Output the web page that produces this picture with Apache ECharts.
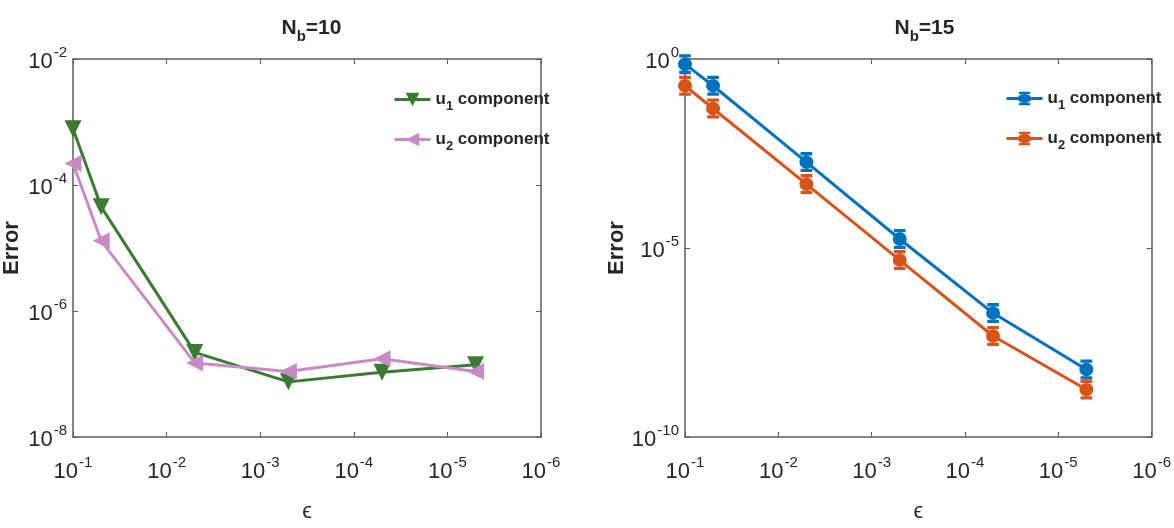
<!DOCTYPE html>
<html>
<head>
<meta charset="utf-8">
<script src="https://cdn.jsdelivr.net/npm/echarts@6/dist/echarts.min.js"></script>
<style>
  html, body { margin: 0; padding: 0; background: #fff; }
  #chart { width: 1174px; height: 528px; }
</style>
</head>
<body>
<div id="chart"></div>
<script>
// epsilon values (x), same for both panels
const eps = [1e-1, 5e-2, 5e-3, 5e-4, 5e-5, 5e-6];

// N_b = 10
const nb10U1 = [7.8e-4, 4.5e-5, 2.2e-7, 7.5e-8, 1.07e-7, 1.4e-7];
const nb10U2 = [2.2e-4, 1.3e-5, 1.5e-7, 1.1e-7, 1.75e-7, 1.1e-7];

// N_b = 15
const nb15U1 = [0.73, 0.196, 1.87e-3, 1.73e-5, 1.9e-7, 6.1e-9];
const nb15U2 = [0.196, 0.049, 4.9e-4, 4.8e-6, 4.7e-8, 1.8e-9];

const panelTitles = ['10', '15'];
const seriesNames = ['u1 component', 'u2 component'];

const FONT = '"Liberation Sans Narrow", "Liberation Sans", Arial, sans-serif';
const FRAME = '#5a5a5a';

const chart = echarts.init(document.getElementById('chart'));

function pairs(ys) {
  return eps.map((x, i) => [x, ys[i]]);
}

function powLabel(v) {
  const e = Math.round(Math.log10(v));
  return '{b|10}{s|' + e + '}';
}

const powRich = {
  b: { fontFamily: FONT, fontSize: 22, color: '#262626', lineHeight: 28, verticalAlign: 'bottom' },
  s: { fontFamily: FONT, fontSize: 15, color: '#262626', lineHeight: 28, verticalAlign: 'top', padding: [0, 0, 11, 1] }
};

const subRich = {
  n: { fontFamily: FONT, fontSize: 17, fontWeight: 'bold', color: '#262626' },
  sub: { fontFamily: FONT, fontSize: 13, fontWeight: 'bold', color: '#262626', padding: [14, 0, 0, 0] }
};

const grids = [
  { left: 72, top: 59, width: 469, height: 390 },
  { left: 685, top: 59, width: 469, height: 390 }
];

const yRanges = [
  { min: 1e-8, max: 1e-2, interval: 2 },
  { min: 1e-10, max: 1, interval: 5 }
];

const xAxes = [];
const yAxes = [];
grids.forEach((g, i) => {
  // bottom x axis with labels
  xAxes.push({
    type: 'log', logBase: 10, gridIndex: i, min: 1e-6, max: 1e-1, inverse: true, interval: 1,
    position: 'bottom',
    name: 'ϵ', nameLocation: 'middle', nameGap: 64,
    nameTextStyle: { fontFamily: FONT, fontSize: 22, color: '#262626' },
    axisLine: { show: true, lineStyle: { color: FRAME, width: 1.5 } },
    axisTick: { inside: true, length: 5, lineStyle: { color: FRAME } },
    axisLabel: { formatter: powLabel, rich: powRich, margin: 18 },
    splitLine: { show: false }
  });
  // top mirror
  xAxes.push({
    type: 'log', logBase: 10, gridIndex: i, min: 1e-6, max: 1e-1, inverse: true, interval: 1,
    position: 'top',
    axisLine: { show: true, lineStyle: { color: FRAME, width: 1.5 } },
    axisTick: { inside: true, length: 5, lineStyle: { color: FRAME } },
    axisLabel: { show: false },
    splitLine: { show: false }
  });
  const r = yRanges[i];
  yAxes.push({
    type: 'log', logBase: 10, gridIndex: i, min: r.min, max: r.max, interval: r.interval,
    position: 'left',
    name: 'Error', nameLocation: 'middle', nameGap: i === 0 ? 50 : 56,
    nameTextStyle: { fontFamily: '"Liberation Sans", Arial, sans-serif', fontSize: 22, fontWeight: 'bold', color: '#262626' },
    axisLine: { show: true, lineStyle: { color: FRAME, width: 1.5 } },
    axisTick: { inside: true, length: 5, lineStyle: { color: FRAME } },
    axisLabel: { formatter: powLabel, rich: powRich, margin: 6 },
    splitLine: { show: false }
  });
  yAxes.push({
    type: 'log', logBase: 10, gridIndex: i, min: r.min, max: r.max, interval: r.interval,
    position: 'right',
    axisLine: { show: true, lineStyle: { color: FRAME, width: 1.5 } },
    axisTick: { inside: true, length: 5, lineStyle: { color: FRAME } },
    axisLabel: { show: false },
    splitLine: { show: false }
  });
});

// filled dot with short error-bar caps above and below
const capCircle = 'path://M1,0H11V3H1Z M1,15H11V18H1Z M6,3A6,6,0,1,1,5.99,3Z';

const series = [
  {
    name: seriesNames[0], type: 'line', xAxisIndex: 0, yAxisIndex: 0,
    data: pairs(nb10U1), color: '#3b7a31',
    symbol: 'triangle', symbolRotate: 180, symbolSize: 17,
    lineStyle: { width: 3 }
  },
  {
    name: seriesNames[1], type: 'line', xAxisIndex: 0, yAxisIndex: 0,
    data: pairs(nb10U2), color: '#c98bc6',
    symbol: 'triangle', symbolRotate: 90, symbolSize: 17,
    lineStyle: { width: 3 }
  },
  {
    name: seriesNames[0] + ' ', type: 'line', xAxisIndex: 2, yAxisIndex: 2,
    data: pairs(nb15U1), color: '#0072bd',
    symbol: capCircle, symbolSize: [14, 20],
    lineStyle: { width: 3 }
  },
  {
    name: seriesNames[1] + ' ', type: 'line', xAxisIndex: 2, yAxisIndex: 2,
    data: pairs(nb15U2), color: '#d95319',
    symbol: capCircle, symbolSize: [14, 20],
    lineStyle: { width: 3 }
  }
];

function legendFmt(name) {
  const m = name.trim().match(/^u(\d) (.*)$/);
  return '{n|u}{sub|' + m[1] + '}{n| ' + m[2] + '}';
}

const legendBase = {
  orient: 'vertical', itemWidth: 36, itemHeight: 17, itemGap: 18,
  formatter: legendFmt,
  textStyle: { rich: subRich },
  lineStyle: { width: 3 },
  selectedMode: false
};

const option = {
  backgroundColor: '#fff',
  animation: false,
  title: panelTitles.map((t, i) => ({
    text: '{n|N}{sub|b}{n|=' + t + '}',
    left: grids[i].left + grids[i].width / 2,
    textAlign: 'center',
    top: 8,
    textStyle: {
      rich: {
        n: { fontFamily: FONT, fontSize: 21, fontWeight: 'bold', color: '#262626' },
        sub: { fontFamily: FONT, fontSize: 15, fontWeight: 'bold', color: '#262626', padding: [16, 0, 0, 0] }
      }
    }
  })),
  legend: [
    Object.assign({}, legendBase, { left: 388, top: 86, data: [seriesNames[0], seriesNames[1]] }),
    Object.assign({}, legendBase, { left: 1000, top: 85, data: [seriesNames[0] + ' ', seriesNames[1] + ' '] })
  ],
  grid: grids.map(g => Object.assign({ show: false, containLabel: false }, g)),
  xAxis: xAxes,
  yAxis: yAxes,
  series: series
};

chart.setOption(option);
</script>
</body>
</html>
